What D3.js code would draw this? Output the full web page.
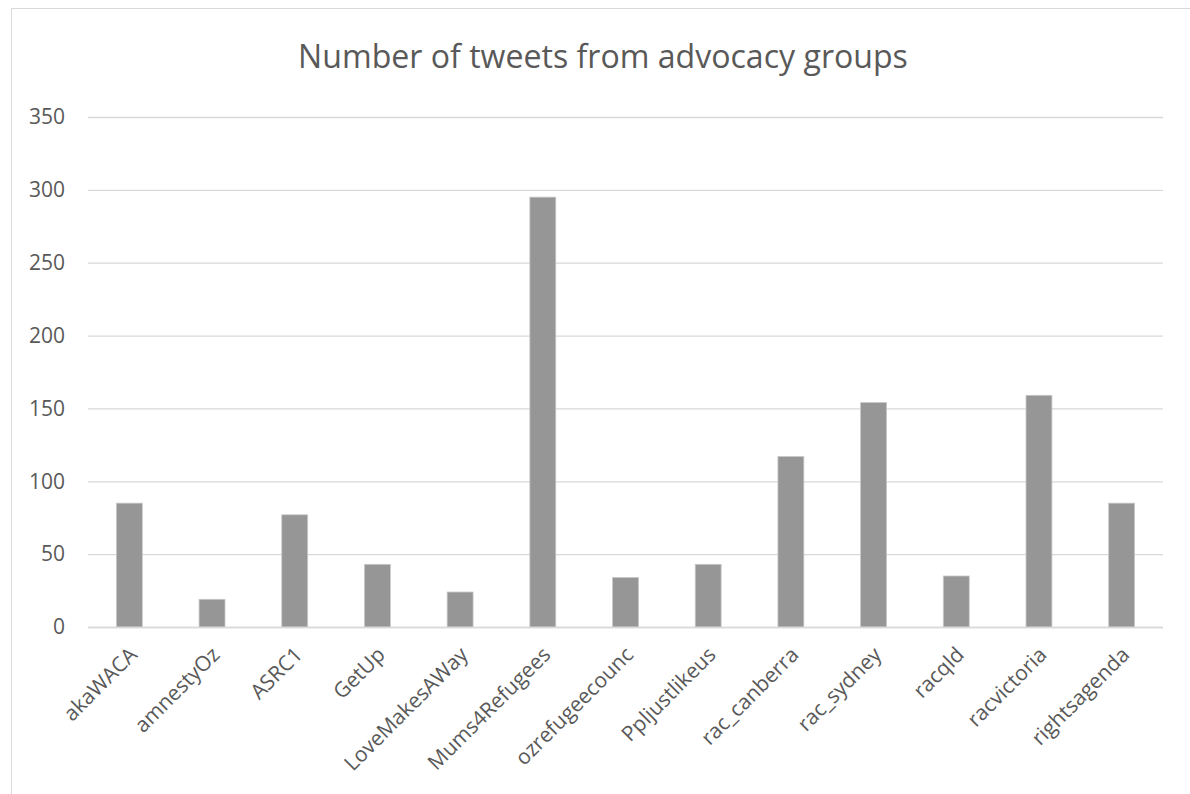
<!DOCTYPE html>
<html>
<head>
<meta charset="utf-8">
<script src="https://cdn.jsdelivr.net/npm/d3@7"></script>
<style>
  html, body { margin: 0; padding: 0; background: #fff; }
  svg { display: block; }
  text { font-family: "Open Sans", "Noto Sans", sans-serif; fill: #595959; }
</style>
</head>
<body>
<svg id="chart" width="1190" height="794"></svg>
<script>
const title = "Number of tweets from advocacy groups";
const categories = ["akaWACA", "amnestyOz", "ASRC1", "GetUp", "LoveMakesAWay", "Mums4Refugees",
  "ozrefugeecounc", "Ppljustlikeus", "rac_canberra", "rac_sydney", "racqld", "racvictoria", "rightsagenda"];
const values = [85, 19, 77, 43, 24, 295, 34, 43, 117, 154, 35, 159, 85];
const yTicks = [0, 50, 100, 150, 200, 250, 300, 350];

const svg = d3.select("#chart");
const margin = { left: 88, right: 1163, top: 117, bottom: 627 };

// chart area border
svg.append("rect")
  .attr("x", 11.5).attr("y", 8.5).attr("width", 1300).attr("height", 1000)
  .attr("fill", "none").attr("stroke", "#d9d9d9").attr("stroke-width", 1);

const x = d3.scaleBand().domain(categories).range([margin.left, margin.right]).paddingInner(0).paddingOuter(0);
const y = d3.scaleLinear().domain([0, 350]).range([margin.bottom, margin.top]);

// gridlines
const yAxis = d3.axisLeft(y).tickValues(yTicks).tickSize(-(margin.right - margin.left)).tickPadding(23);
const gy = svg.append("g").attr("transform", `translate(${margin.left},0)`).call(yAxis);
gy.select(".domain").remove();
gy.selectAll(".tick line").attr("stroke", "#d9d9d9").attr("stroke-width", 1.3);
gy.selectAll(".tick text").attr("font-size", 21).attr("fill", "#595959")
  .style("font-family", '"Open Sans", sans-serif');

// bars
const bw = x.bandwidth() / 3.19;
svg.append("g").selectAll("rect").data(categories).join("rect")
  .attr("x", (d) => x(d) + x.bandwidth() / 2 - bw / 2)
  .attr("width", bw)
  .attr("y", (d, i) => y(values[i]))
  .attr("height", (d, i) => y(0) - y(values[i]))
  .attr("fill", "#969696")
  .attr("stroke", "#c8c8c8").attr("stroke-width", 0.8);

// axis baseline
svg.append("line")
  .attr("x1", margin.left).attr("x2", margin.right)
  .attr("y1", y(0) + 0.5).attr("y2", y(0) + 0.5)
  .attr("stroke", "#d9d9d9").attr("stroke-width", 1.3);

// x labels
const xAxis = d3.axisBottom(x).tickSize(0).tickPadding(0);
const gx = svg.append("g").attr("transform", `translate(0,${margin.bottom})`).call(xAxis);
gx.select(".domain").remove();
gx.selectAll(".tick text")
  .attr("font-size", 21).attr("fill", "#595959")
  .style("font-family", '"Open Sans", sans-serif')
  .attr("text-anchor", "end")
  .attr("dy", null).attr("y", 0)
  .attr("transform", "translate(9,29) rotate(-45)");

// title
const t = svg.append("text")
  .attr("x", 603).attr("y", 68)
  .attr("text-anchor", "middle")
  .attr("font-size", 30)
  .attr("fill", "#595959")
  .text(title);
const tw = t.node().getComputedTextLength();
t.attr("font-size", 30 * 610 / tw);
</script>
</body>
</html>
